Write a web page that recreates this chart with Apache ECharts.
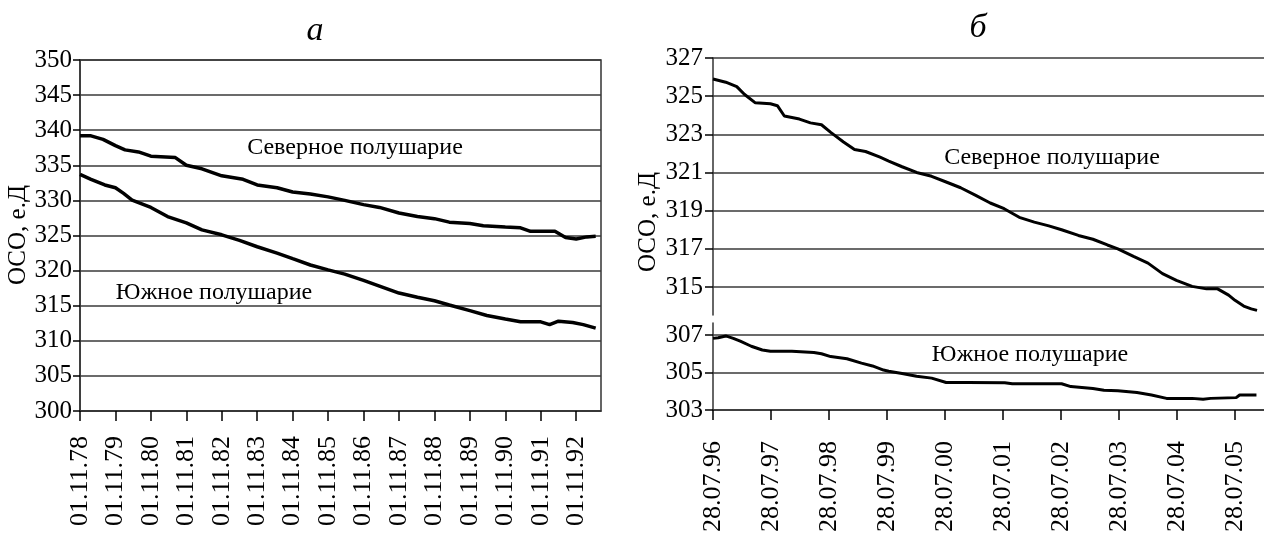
<!DOCTYPE html>
<html>
<head>
<meta charset="utf-8">
<script src="https://cdn.jsdelivr.net/npm/echarts@6/dist/echarts.min.js"></script>
<style>
    html, body {margin:0;padding:0;background:#ffffff;}
    #chart {width:1264px;height:539px;}
</style>
</head>
<body>
<div id="chart"></div>
<script>
    // panel a: 1978-1993, years since 01.11.78
    var labelsA = ['01.11.78','01.11.79','01.11.80','01.11.81','01.11.82','01.11.83','01.11.84',
        '01.11.85','01.11.86','01.11.87','01.11.88','01.11.89','01.11.90','01.11.91','01.11.92'];
    var yearsNorthA = [0, 0.31, 0.65, 1, 1.27, 1.65, 2, 2.69, 3, 3.44, 4, 4.6, 5, 5.56, 6, 6.5, 7, 7.47,
        8, 8.45, 9, 9.52, 10, 10.42, 11, 11.38, 12, 12.43, 12.71, 13, 13.4, 13.7, 14, 14.3, 14.55];
    var northA = [339.2, 339.2, 338.7, 337.8, 337.2, 336.9, 336.3, 336.1, 335.0, 334.5, 333.5, 333.0,
        332.2, 331.8, 331.2, 330.9, 330.5, 330.0, 329.4, 329.0, 328.2, 327.7, 327.4, 326.9, 326.7,
        326.4, 326.2, 326.1, 325.6, 325.6, 325.6, 324.7, 324.5, 324.8, 324.9];
    var yearsSouthA = [0, 0.31, 0.7, 1, 1.23, 1.47, 2, 2.47, 3, 3.44, 4, 4.5, 5, 5.56, 6, 6.5, 7, 7.47,
        8, 8.45, 9, 9.52, 10, 10.42, 11, 11.48, 12, 12.43, 13, 13.25, 13.5, 13.9, 14.2, 14.55];
    var southA = [333.7, 333.0, 332.2, 331.8, 331.0, 330.05, 329.0, 327.7, 326.8, 325.8, 325.1, 324.3,
        323.4, 322.5, 321.7, 320.8, 320.1, 319.5, 318.6, 317.8, 316.8, 316.2, 315.7, 315.1, 314.3,
        313.6, 313.1, 312.7, 312.7, 312.3, 312.8, 312.6, 312.3, 311.8];

    // panel b: 1996-2005, years since 28.07.96
    var labelsB = ['28.07.96','28.07.97','28.07.98','28.07.99','28.07.00','28.07.01','28.07.02',
        '28.07.03','28.07.04','28.07.05'];
    var yearsNorthB = [0, 0.22, 0.41, 0.54, 0.73, 0.99, 1.11, 1.23, 1.49, 1.68, 1.87, 2.03, 2.25, 2.44,
        2.63, 2.88, 3.03, 3.26, 3.51, 3.77, 4.02, 4.27, 4.53, 4.78, 5.02, 5.28, 5.54, 5.79, 6.01, 6.3,
        6.55, 6.8, 6.98, 7.25, 7.5, 7.75, 7.99, 8.26, 8.51, 8.7, 8.89, 9.0, 9.15, 9.28, 9.38];
    var northB = [325.9, 325.73, 325.5, 325.1, 324.65, 324.6, 324.5, 323.96, 323.8, 323.6, 323.5, 323.1,
        322.6, 322.2, 322.1, 321.8, 321.6, 321.3, 321.0, 320.8, 320.5, 320.2, 319.8, 319.4, 319.1,
        318.65, 318.4, 318.2, 318.0, 317.7, 317.5, 317.2, 317.0, 316.6, 316.25, 315.7, 315.35, 315.03,
        314.9, 314.9, 314.57, 314.3, 314.0, 313.85, 313.77];
    var yearsSouthB = [0, 0.09, 0.22, 0.35, 0.47, 0.66, 0.85, 0.99, 1.36, 1.74, 1.87, 2.03, 2.31, 2.56,
        2.75, 2.94, 3.03, 3.26, 3.51, 3.77, 4.02, 4.4, 5.03, 5.16, 6.01, 6.17, 6.55, 6.74, 6.98, 7.31,
        7.56, 7.82, 8.26, 8.45, 8.58, 9.02, 9.08, 9.37];
    var southB = [306.82, 306.85, 306.95, 306.82, 306.67, 306.4, 306.2, 306.13, 306.13, 306.07, 306.0,
        305.85, 305.73, 305.5, 305.35, 305.13, 305.07, 304.95, 304.8, 304.7, 304.47, 304.47, 304.45,
        304.4, 304.4, 304.25, 304.15, 304.05, 304.03, 303.93, 303.8, 303.62, 303.62, 303.57, 303.62,
        303.66, 303.8, 303.8];

    var ticksYUpperB = [315, 317, 319, 321, 323, 325, 327];
    var ticksYLowerB = [303, 305, 307];

    var serif = "'Liberation Serif', 'Times New Roman', serif";

    function pairs(xs, ys) {
        var out = [];
        for (var i = 0; i < xs.length; i++) out.push([xs[i], ys[i]]);
        return out;
    }
    function indexList(arr) {
        var out = [];
        for (var i = 0; i < arr.length; i++) out.push(i);
        return out;
    }

    var axisColor = '#333';
    var gridColor = '#3a3a3a';

    function xAxisFor(gridIndex, max, labels, margin) {
        return {
            type: 'value', gridIndex: gridIndex, min: 0, max: max,
            axisLine: {show: true, lineStyle: {color: axisColor, width: 1.5}},
            axisTick: {show: true, length: 10, customValues: indexList(labels), lineStyle: {color: '#000', width: 1.5}},
            axisLabel: {
                show: true, rotate: 90, margin: margin, customValues: indexList(labels),
                fontFamily: serif, fontSize: 26, color: '#000',
                formatter: function (v) { return labels[Math.round(v)] || ''; }
            },
            splitLine: {show: false}
        };
    }

    var chart = echarts.init(document.getElementById('chart'));

    var option = {
        animation: false,
        backgroundColor: '#ffffff',
        grid: [
            {left: 80, top: 60, width: 521, height: 351, show: true, borderColor: axisColor, borderWidth: 1.5},
            {left: 713, top: 58, right: 0, height: 257},
            {left: 713, top: 323, right: 0, height: 87}
        ],
        xAxis: [
            xAxisFor(0, 14.7, labelsA, 25),
            {type: 'value', gridIndex: 1, min: 0, max: 9.5, show: false},
            xAxisFor(2, 9.5, labelsB, 31)
        ],
        yAxis: [
            {
                type: 'value', gridIndex: 0, min: 300, max: 350, interval: 5,
                axisLine: {show: true, lineStyle: {color: axisColor, width: 1.5}},
                axisTick: {show: true, length: 7, lineStyle: {color: '#000', width: 1.5}},
                axisLabel: {fontFamily: serif, fontSize: 25, color: '#000', margin: 8},
                splitLine: {show: true, lineStyle: {color: gridColor, width: 1.5}}
            },
            {
                type: 'value', gridIndex: 1, min: 313.53, max: 327,
                axisLine: {show: true, lineStyle: {color: axisColor, width: 1.5}},
                axisTick: {show: true, length: 8, customValues: ticksYUpperB, lineStyle: {color: '#000', width: 1.5}},
                axisLabel: {fontFamily: serif, fontSize: 25, color: '#000', margin: 10, customValues: ticksYUpperB},
                splitLine: {show: true, lineStyle: {color: gridColor, width: 1.5}}
            },
            {
                type: 'value', gridIndex: 2, min: 303, max: 307.64,
                axisLine: {show: true, lineStyle: {color: axisColor, width: 1.5}},
                axisTick: {show: true, length: 8, customValues: ticksYLowerB, lineStyle: {color: '#000', width: 1.5}},
                axisLabel: {fontFamily: serif, fontSize: 25, color: '#000', margin: 10, customValues: ticksYLowerB},
                splitLine: {show: true, lineStyle: {color: gridColor, width: 1.5}}
            }
        ],
        series: [
            {type: 'line', xAxisIndex: 0, yAxisIndex: 0, data: pairs(yearsNorthA, northA),
                showSymbol: false, lineStyle: {color: '#000', width: 3.5}},
            {type: 'line', xAxisIndex: 0, yAxisIndex: 0, data: pairs(yearsSouthA, southA),
                showSymbol: false, lineStyle: {color: '#000', width: 3.5}},
            {type: 'line', xAxisIndex: 1, yAxisIndex: 1, data: pairs(yearsNorthB, northB),
                showSymbol: false, lineStyle: {color: '#000', width: 3}},
            {type: 'line', xAxisIndex: 2, yAxisIndex: 2, data: pairs(yearsSouthB, southB),
                showSymbol: false, lineStyle: {color: '#000', width: 3}}
        ],
        graphic: [
            {type: 'text', x: 315, y: 31, style: {text: 'а', font: 'italic 34px ' + serif, fill: '#000', align: 'center', verticalAlign: 'middle'}},
            {type: 'text', x: 978, y: 28, style: {text: 'б', font: 'italic 34px ' + serif, fill: '#000', align: 'center', verticalAlign: 'middle'}},
            {type: 'text', x: 355, y: 148, style: {text: 'Северное полушарие', font: '24px ' + serif, fill: '#000', align: 'center', verticalAlign: 'middle'}},
            {type: 'text', x: 214, y: 293, style: {text: 'Южное полушарие', font: '24px ' + serif, fill: '#000', align: 'center', verticalAlign: 'middle'}},
            {type: 'text', x: 1052, y: 158, style: {text: 'Северное полушарие', font: '24px ' + serif, fill: '#000', align: 'center', verticalAlign: 'middle'}},
            {type: 'text', x: 1030, y: 355, style: {text: 'Южное полушарие', font: '24px ' + serif, fill: '#000', align: 'center', verticalAlign: 'middle'}},
            {type: 'text', x: 18, y: 235, rotation: Math.PI / 2, style: {text: 'ОСО, е.Д', font: '25px ' + serif, fill: '#000', align: 'center', verticalAlign: 'middle'}},
            {type: 'text', x: 648, y: 222, rotation: Math.PI / 2, style: {text: 'ОСО, е.Д', font: '25px ' + serif, fill: '#000', align: 'center', verticalAlign: 'middle'}}
        ]
    };

    chart.setOption(option);
</script>
</body>
</html>
